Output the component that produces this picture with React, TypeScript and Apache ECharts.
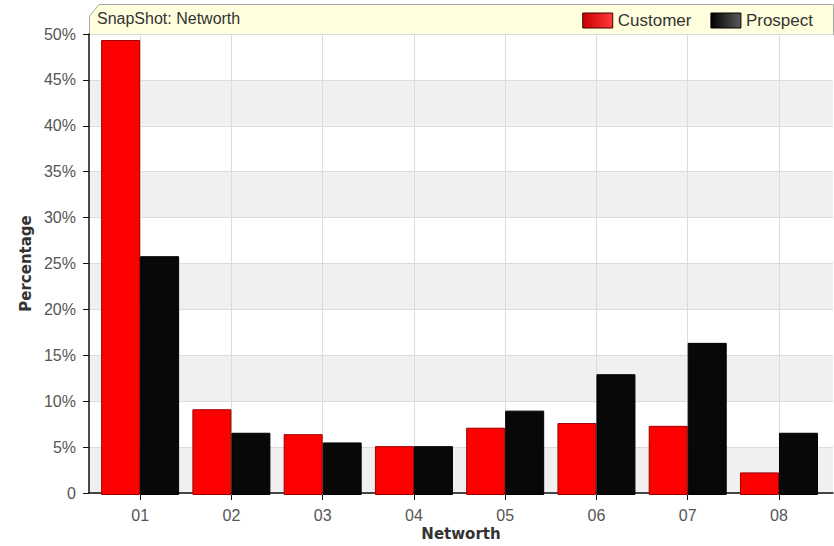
import React, { useEffect, useRef } from "react";
import * as echarts from "echarts";

const categories = ["01", "02", "03", "04", "05", "06", "07", "08"];
const customer = [49.35, 9.3, 6.6, 5.3, 7.3, 7.8, 7.5, 2.45];
const prospect = [25.9, 6.75, 5.7, 5.3, 9.15, 13.1, 16.5, 6.75];
const yTicks = { min: 0, max: 50, interval: 5 };
const titleText = "SnapShot: Networth";
const xName = "Networth";
const yName = "Percentage";

const FONT = "Liberation Sans, Arial, sans-serif";
const NAME_FONT = "DejaVu Sans, Verdana, sans-serif";

// half-band positions used only to place vertical grid lines at category centres
const halfSteps = Array.from({ length: categories.length * 2 + 1 }, (_, i) => String(i));

export default function App() {
  const ref = useRef<HTMLDivElement>(null);
  useEffect(() => {
    if (!ref.current) return;
    const chart = echarts.init(ref.current, undefined, { renderer: "svg" });
    const redGrad = new echarts.graphic.LinearGradient(0, 0, 1, 0, [
      { offset: 0, color: "#c80000" },
      { offset: 1, color: "#ff3a3a" },
    ]);
    const blackGrad = new echarts.graphic.LinearGradient(0, 0, 1, 0, [
      { offset: 0, color: "#000000" },
      { offset: 1, color: "#5a5a5a" },
    ]);
    chart.setOption({
      animation: false,
      backgroundColor: "#ffffff",
      textStyle: { fontFamily: FONT },
      graphic: [
        {
          type: "polygon",
          z: -10,
          shape: {
            points: [
              [89.5, 16],
              [99, 4.5],
              [833.5, 4.5],
              [833.5, 35],
              [89.5, 35],
            ],
          },
          style: { fill: "#ffffde", stroke: "#a8a8a8", lineWidth: 1 },
        },
        {
          type: "text",
          x: 97,
          y: 18,
          z: 10,
          style: {
            text: titleText,
            fill: "#333333",
            font: "16px " + FONT,
            textVerticalAlign: "middle",
          },
        },
      ],
      legend: {
        right: 16,
        top: 7,
        itemWidth: 30,
        itemHeight: 15,
        itemGap: 19,
        textStyle: { fontSize: 17, color: "#333", fontFamily: FONT },
        data: [
          {
            name: "Customer",
            icon: "rect",
            itemStyle: { color: redGrad, borderColor: "#400000", borderWidth: 1 },
          },
          {
            name: "Prospect",
            icon: "rect",
            itemStyle: { color: blackGrad, borderColor: "#000", borderWidth: 1 },
          },
        ],
      },
      grid: [
        { left: 89, right: 1, top: 34, bottom: 51 },
        { left: 94.5, right: 9.4, top: 34, bottom: 51 },
      ],
      xAxis: [
        {
          gridIndex: 0,
          type: "value",
          min: 0,
          max: 1,
          axisLine: { show: true, lineStyle: { color: "#111", width: 1.5 } },
          axisTick: { show: false },
          axisLabel: { show: false },
          splitLine: { show: false },
          name: xName,
          nameLocation: "middle",
          nameGap: 33,
          nameTextStyle: { fontSize: 15, fontWeight: "bold", color: "#333", fontFamily: NAME_FONT },
        },
        {
          gridIndex: 1,
          type: "category",
          data: categories,
          axisLine: { show: false },
          axisTick: { show: true, alignWithLabel: true, length: 5, lineStyle: { color: "#111" } },
          axisLabel: { fontSize: 16, color: "#555", margin: 12, fontFamily: FONT },
          splitLine: { show: false },
        },
        {
          gridIndex: 1,
          type: "category",
          data: halfSteps,
          boundaryGap: false,
          axisLine: { show: false },
          axisTick: { show: false },
          axisLabel: { show: false },
          splitLine: {
            show: true,
            interval: (idx: number) => idx % 2 === 1,
            lineStyle: { color: "#dcdcdc", width: 1 },
          },
        },
      ],
      yAxis: [
        {
          gridIndex: 0,
          type: "value",
          min: yTicks.min,
          max: yTicks.max,
          interval: yTicks.interval,
          axisLine: { show: true, lineStyle: { color: "#111", width: 1.5 } },
          axisTick: { show: true, length: 6, lineStyle: { color: "#111" } },
          axisLabel: {
            fontSize: 16,
            color: "#555",
            margin: 13,
            fontFamily: FONT,
            formatter: (v: number) => (v === 0 ? "0" : v + "%"),
          },
          splitLine: { show: true, lineStyle: { color: "#dcdcdc", width: 1 } },
          splitArea: { show: true, areaStyle: { color: ["#f0f0f0", "#ffffff"] } },
          name: yName,
          nameLocation: "middle",
          nameGap: 56,
          nameTextStyle: { fontSize: 15, fontWeight: "bold", color: "#333", fontFamily: NAME_FONT },
        },
        {
          gridIndex: 1,
          type: "value",
          min: yTicks.min,
          max: yTicks.max,
          interval: yTicks.interval,
          show: false,
          splitLine: { show: false },
        },
      ],
      series: [
        {
          name: "Customer",
          type: "bar",
          xAxisIndex: 1,
          yAxisIndex: 1,
          z: 3,
          barWidth: 39,
          barGap: "0%",
          data: customer,
          itemStyle: { color: "#ff0000", borderColor: "#9a0000", borderWidth: 1 },
        },
        {
          name: "Prospect",
          type: "bar",
          xAxisIndex: 1,
          yAxisIndex: 1,
          z: 3,
          barWidth: 39,
          barGap: "0%",
          data: prospect,
          itemStyle: { color: "#080808", borderColor: "#000000", borderWidth: 1 },
        },
      ],
    });
    return () => chart.dispose();
  }, []);
  return <div ref={ref} style={{ width: 834, height: 546, position: "absolute", left: 0, top: 0 }} />;
}
